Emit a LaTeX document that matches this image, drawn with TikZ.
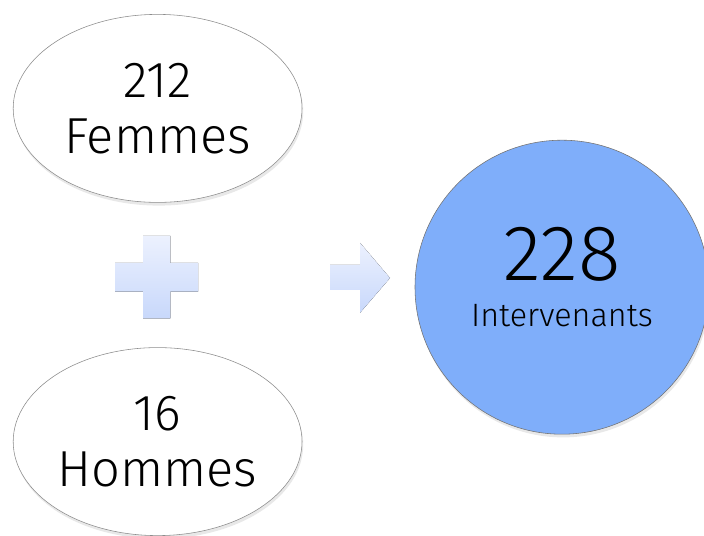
\documentclass[tikz,border=0pt]{standalone}
\usepackage{fontspec}
\setmainfont{Fira Sans Light}
\usepackage{xcolor}
\usetikzlibrary{shapes.geometric,shadows}

\definecolor{bulle}{RGB}{127,174,250}
\definecolor{clair}{RGB}{236,241,254}
\definecolor{moyen}{RGB}{200,216,251}

\tikzset{
  groupe/.style={ellipse, draw=black!45, fill=white, align=center,
    minimum width=7.22cm, minimum height=4.7cm, inner sep=0pt,
    font=\fontsize{36}{40}\selectfont,
    drop shadow={opacity=0.18, shadow xshift=0.03cm, shadow yshift=-0.08cm}},
  signe/.style={top color=clair, bottom color=moyen, draw=none}
}

\begin{document}
\begin{tikzpicture}

			\useasboundingbox (0,0) rectangle (17.6,13.4);

			% Femmes ellipse
			\node[groupe] (femmes) at (3.94,10.69) {212\\Femmes};

			% Hommes ellipse
			\node[groupe] (hommes) at (3.94,2.36) {16\\Hommes};

			% Plus sign
			\fill[signe] (3.58,5.44) -- (4.26,5.44) -- (4.26,6.11)
				-- (4.95,6.11) -- (4.95,6.83) -- (4.26,6.83) -- (4.26,7.50)
				-- (3.58,7.50) -- (3.58,6.83) -- (2.88,6.83) -- (2.88,6.11)
				-- (3.58,6.11) -- cycle;

			% Arrow
			\fill[signe] (8.25,6.15) -- (9.00,6.15) -- (9.00,5.58)
				-- (9.75,6.45) -- (9.00,7.33) -- (9.00,6.78)
				-- (8.25,6.78) -- cycle;

			% Total circle
			\node[circle, draw=black!55, fill=bulle, minimum size=7.35cm,
				inner sep=0pt, align=center,
				drop shadow={opacity=0.18, shadow xshift=0.03cm, shadow yshift=-0.08cm}]
				(total) at (14.05,6.22)
				{{\fontsize{56}{60}\selectfont 228}\\[15pt]{\fontsize{23}{26}\selectfont Intervenants\rule[-15pt]{0pt}{1pt}}};

		\end{tikzpicture}
\end{document}
